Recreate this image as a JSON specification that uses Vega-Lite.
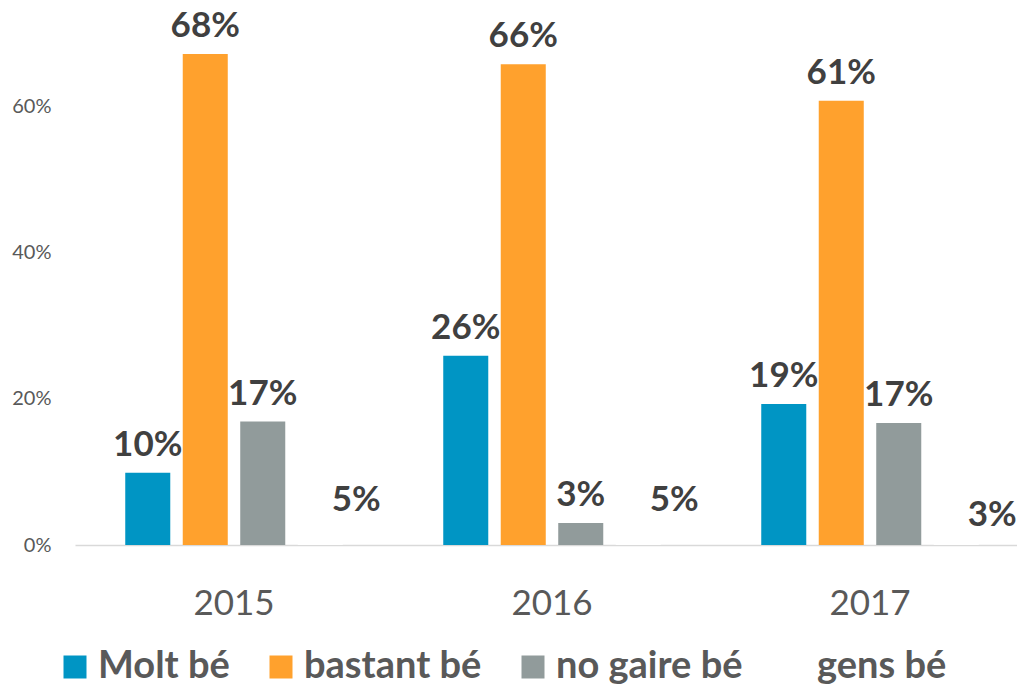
{
  "$schema": "https://vega.github.io/schema/vega-lite/v6.json",
  "width": 954,
  "height": 526,
  "autosize": {"type": "none"},
  "padding": {"left": 75, "top": 19, "right": 0, "bottom": 144},
  "background": "white",
  "config": {"view": {"stroke": null}, "font": "Lato"},
  "data": {"values": [
    {"year": "2015", "cat": "Molt bé", "value": 9.9, "label": "10%"},
    {"year": "2015", "cat": "bastant bé", "value": 67.2, "label": "68%"},
    {"year": "2015", "cat": "no gaire bé", "value": 16.9, "label": "17%"},
    {"year": "2015", "cat": "gens bé", "value": 5, "label": "5%"},
    {"year": "2016", "cat": "Molt bé", "value": 25.9, "label": "26%"},
    {"year": "2016", "cat": "bastant bé", "value": 65.8, "label": "66%"},
    {"year": "2016", "cat": "no gaire bé", "value": 3, "label": "3%"},
    {"year": "2016", "cat": "gens bé", "value": 5, "label": "5%"},
    {"year": "2017", "cat": "Molt bé", "value": 19.3, "label": "19%"},
    {"year": "2017", "cat": "bastant bé", "value": 60.8, "label": "61%"},
    {"year": "2017", "cat": "no gaire bé", "value": 16.7, "label": "17%"},
    {"year": "2017", "cat": "gens bé", "value": 3, "label": "3%"}
  ]},
  "encoding": {
    "x": {"field": "year", "type": "nominal",
      "scale": {"paddingInner": 0, "paddingOuter": 0},
      "axis": {"title": null, "labelAngle": 0, "ticks": false, "domain": true, "domainColor": "#D9D9D9", "domainWidth": 1.5,
        "labelFontSize": 35, "labelColor": "#595959", "labelPadding": 58, "labelFont": "Lato", "labelBaseline": "middle"}},
    "xOffset": {"field": "cat", "type": "nominal",
      "sort": ["Molt bé", "bastant bé", "no gaire bé", "gens bé"],
      "scale": {"paddingInner": 0.217, "paddingOuter": 0.874}},
    "y": {"field": "value", "type": "quantitative",
      "scale": {"domain": [0, 72], "nice": false},
      "axis": {"title": null, "values": [0, 20, 40, 60], "labelExpr": "datum.value + '%'", "grid": false, "domain": false, "ticks": false,
        "labelFontSize": 20, "labelColor": "#595959", "labelPadding": 24}}
  },
  "layer": [
    {
      "mark": {"type": "bar"},
      "encoding": {
        "color": {"field": "cat", "type": "nominal",
          "sort": ["Molt bé", "bastant bé", "no gaire bé", "gens bé"],
          "scale": {"domain": ["Molt bé", "bastant bé", "no gaire bé", "gens bé"], "range": ["#0095C4", "#FFA12D", "#919B9B", "#FFFFFF"]},
          "legend": {"title": null, "orient": "none", "direction": "horizontal", "legendX": -19, "legendY": 629,
            "symbolType": "square", "symbolSize": 529, "symbolStrokeWidth": 0, "symbolOpacity": 1,
            "labelFontSize": 38, "labelFontWeight": "bold", "labelColor": "#595959", "labelOffset": 4, "columnPadding": 32, "labelLimit": 400}}
      }
    },
    {
      "transform": [{"filter": "datum.cat !== 'gens bé'"}],
      "mark": {"type": "text", "baseline": "middle", "dy": -28, "fontSize": 35, "fontWeight": "bold", "color": "#404040"},
      "encoding": {"text": {"field": "label"}}
    },
    {
      "transform": [{"filter": "datum.cat === 'gens bé'"}],
      "mark": {"type": "text", "baseline": "middle", "dy": -8, "dx": 36, "fontSize": 35, "fontWeight": "bold", "color": "#404040"},
      "encoding": {"text": {"field": "label"}}
    }
  ]
}
